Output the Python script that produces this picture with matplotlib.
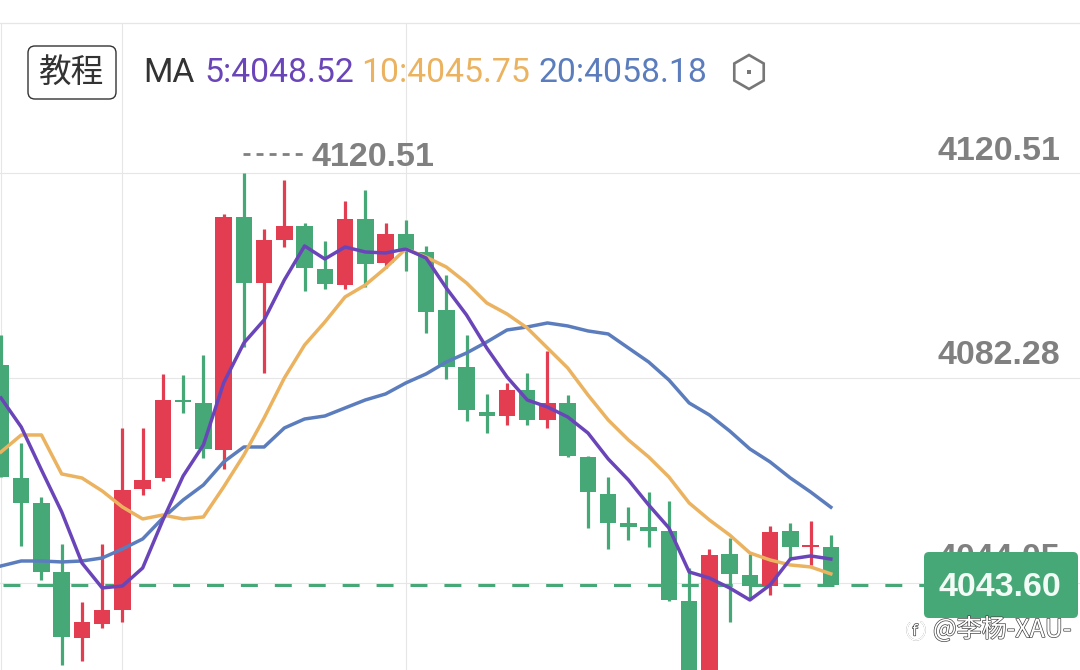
import matplotlib
matplotlib.use('Agg')
import matplotlib.pyplot as plt
import matplotlib.patheffects as pe
from matplotlib.patches import FancyBboxPatch, RegularPolygon, Rectangle, Arc

# candles, price units (red = close above open)
opens = [4084.70, 4063.63, 4058.97, 4046.10, 4033.80, 4036.41, 4039.02, 4061.58, 4063.63, 4078.08, 4077.62,
         4068.85, 4112.30, 4100.00, 4108.01, 4110.63, 4102.61, 4099.62, 4111.93, 4103.73, 4109.13, 4105.78,
         4094.96, 4084.33, 4075.94, 4075.19, 4080.04, 4074.45, 4077.62, 4067.55, 4060.65, 4055.24, 4054.50,
         4053.75, 4040.70, 4025.00, 4049.46, 4045.54, 4043.49, 4053.75, 4050.77, 4050.77]
closes = [4063.82, 4058.97, 4046.10, 4033.98, 4036.78, 4039.02, 4061.39, 4063.26, 4078.18, 4077.81, 4069.04,
          4112.30, 4100.00, 4108.01, 4110.63, 4102.79, 4099.81, 4111.93, 4103.54, 4109.13, 4106.15, 4094.59,
          4084.33, 4076.31, 4075.19, 4080.04, 4074.45, 4077.62, 4067.74, 4061.02, 4055.24, 4054.50, 4053.75,
          4040.88, 4024.10, 4049.27, 4045.73, 4043.49, 4053.56, 4050.77, 4051.14, 4043.60]
highs = [4090.30, 4070.16, 4060.09, 4051.32, 4040.51, 4051.32, 4072.96, 4072.96, 4083.03, 4082.84, 4086.57,
         4112.86, 4120.51, 4110.07, 4119.20, 4111.18, 4107.83, 4115.29, 4117.34, 4111.18, 4111.74, 4106.90,
         4101.49, 4090.30, 4079.30, 4081.35, 4083.21, 4087.32, 4079.11, 4067.74, 4063.82, 4058.22, 4061.02,
         4059.34, 4046.85, 4050.39, 4052.44, 4049.46, 4054.68, 4055.24, 4055.61, 4053.00]
lows = [4063.82, 4050.95, 4044.61, 4028.76, 4029.51, 4035.66, 4036.78, 4060.46, 4063.07, 4075.75, 4067.36,
        4065.31, 4088.06, 4083.21, 4106.71, 4098.50, 4098.88, 4098.88, 4099.25, 4102.79, 4102.23, 4090.67,
        4082.09, 4074.26, 4072.02, 4073.52, 4073.52, 4072.96, 4067.55, 4054.31, 4050.39, 4052.07, 4050.77,
        4040.70, 4022.00, 4023.00, 4036.78, 4041.07, 4041.81, 4048.34, 4047.41, 4043.49]

ma5 = [4078.55, 4073.14, 4065.12, 4057.29, 4047.78, 4043.12, 4043.49, 4046.85, 4055.80, 4064.01, 4069.79,
       4081.35, 4088.81, 4093.10, 4100.56, 4106.90, 4104.47, 4106.71, 4105.78, 4105.59, 4106.34, 4104.66,
       4099.06, 4094.03, 4087.87, 4082.47, 4078.18, 4076.87, 4075.01, 4072.02, 4067.18, 4063.26, 4058.60,
       4054.31, 4046.10, 4044.98, 4043.12, 4040.88, 4043.68, 4048.53, 4049.09, 4048.52]
ma10 = [4068.48, 4071.65, 4071.65, 4064.38, 4063.63, 4061.21, 4058.22, 4055.99, 4056.73, 4055.99, 4056.36,
        4061.95, 4067.92, 4074.82, 4082.28, 4088.43, 4092.72, 4097.39, 4099.62, 4102.79, 4106.34, 4104.84,
        4102.98, 4100.00, 4096.27, 4094.22, 4091.60, 4087.87, 4084.14, 4079.11, 4074.45, 4070.72, 4067.55,
        4063.82, 4058.97, 4055.80, 4053.00, 4049.65, 4048.34, 4047.41, 4047.04, 4045.75]
ma20 = [4047.22, 4048.15, 4048.15, 4047.97, 4048.15, 4048.71, 4050.39, 4052.26, 4056.17, 4059.53, 4062.33,
        4066.62, 4069.41, 4069.41, 4072.96, 4074.63, 4075.19, 4076.69, 4078.18, 4079.30, 4081.35, 4083.03,
        4085.26, 4086.94, 4088.99, 4091.23, 4091.79, 4092.54, 4091.98, 4091.05, 4090.49, 4087.87, 4085.26,
        4081.91, 4077.62, 4075.38, 4072.40, 4069.04, 4066.62, 4063.63, 4061.02, 4058.18]

grid_prices = [4120.51, 4082.28, 4044.05]
grid_times = [0, 6, 20]
last_price = 4043.60
axis_labels = ['4120.51', '4082.28', '4044.05']

RED = '#E23D50'
GREEN = '#47A877'
PURPLE = '#6A45B9'
ORANGE = '#EBB25F'
BLUE = '#5B7DBD'
GREY = '#808080'
NUM_FONT = 'Liberation Sans'
CJK = ['Noto Sans CJK SC', 'DejaVu Sans']

fig = plt.figure(figsize=(10.8, 6.7), dpi=100, facecolor='white')
# chart axes, price scale fills the whole picture
ax = fig.add_axes([0, 0, 1, 1])
ax.set_xlim(-0.049, 53.31)
ax.set_ylim(4027.82, 4152.77)
ax.axis('off')

for p in grid_prices:
    ax.axhline(p, color='#E6E6E6', lw=0.8, zorder=1)
for t in grid_times:
    ax.axvline(t, ymax=0.965, color='#E6E6E6', lw=0.8, zorder=1)
ax.axhline(4148.5, color='#E6E6E6', lw=0.9, zorder=1)

# last price dashes run underneath the candles
ax.plot([0.08, 45.6], [last_price, last_price], color=GREEN, lw=2.2, dashes=(5.55, 5.55), zorder=2)

for i in range(len(opens)):
    color = RED if closes[i] > opens[i] else GREEN
    top = max(opens[i], closes[i])
    bot = min(opens[i], closes[i])
    ax.vlines(i, lows[i], highs[i], color=color, lw=2.3, zorder=3)
    ax.bar(i, max(top - bot, 0.45), bottom=bot, width=0.815, color=color, lw=0, zorder=3)

xs = list(range(len(ma5)))
ax.plot(xs, ma20, color=BLUE, lw=2.5, zorder=4)
ax.plot(xs, ma10, color=ORANGE, lw=2.5, zorder=5)
ax.plot(xs, ma5, color=PURPLE, lw=2.5, zorder=6)

# overlay in pixels for the labels and widgets
ov = fig.add_axes([0, 0, 1, 1])
ov.set_xlim(0, 1080)
ov.set_ylim(670, 0)
ov.axis('off')
ov.patch.set_alpha(0)

ov.add_patch(FancyBboxPatch((32, 50), 80, 45, boxstyle='round,pad=4,rounding_size=7',
                            fc='white', ec='#333333', lw=1.0))
ov.text(72, 73, '教程', family=CJK, fontsize=23.5, color='#333333', ha='center', va='center')

header_y = 73
ov.text(143, header_y, 'MA', family='Roboto', fontsize=24.3, color='#333333', va='center')
ov.text(204, header_y, '5:4048.52', family='Roboto', fontsize=24.3, color=PURPLE, va='center')
ov.text(361, header_y, '10:4045.75', family='Roboto', fontsize=24.3, color=ORANGE, va='center')
ov.text(539, header_y, '20:4058.18', family='Roboto', fontsize=24.3, color=BLUE, va='center')
ov.add_patch(RegularPolygon((749, 72), 6, radius=17, fc='none', ec='#777777', lw=1.9))
ov.add_patch(Rectangle((747, 70), 4, 4, fc='#777777', ec='none'))

# max marker
ov.plot([243, 305], [154, 154], color=GREY, lw=2, dashes=(2.5, 2.2))
ov.text(312, 154, '4120.51', family=NUM_FONT, fontsize=24.5, color=GREY, va='center_baseline', weight='bold')

# right axis labels
for lab, y in zip(axis_labels, [148, 352, 555]):
    ov.text(1060, y, lab, family=NUM_FONT, fontsize=24.5, color=GREY, ha='right', va='center_baseline', weight='bold')

ov.add_patch(FancyBboxPatch((928, 556), 146, 58, boxstyle='round,pad=4,rounding_size=5',
                            fc=GREEN, ec='none', zorder=5))
ov.text(1000, 584, '4043.60', family=NUM_FONT, fontsize=24.5, color='#F2FBF6', ha='center', va='center_baseline',
        weight='bold', zorder=6)

# watermark with its small logo
halo = [pe.withStroke(linewidth=1.0, foreground='#444444')]
ov.add_patch(Arc((916, 630), 18, 20, theta1=-60, theta2=230, ec='white', lw=1.2, zorder=7, path_effects=halo))
ov.text(915, 631, 'f', family='DejaVu Sans', fontsize=11, color='white', ha='center', va='center', zorder=7,
        path_effects=halo)
ov.text(933, 630, '@李杨-XAU-', family=CJK, fontsize=18, color='white', va='center', zorder=7, path_effects=halo)

fig.savefig('out.png', dpi=100)
